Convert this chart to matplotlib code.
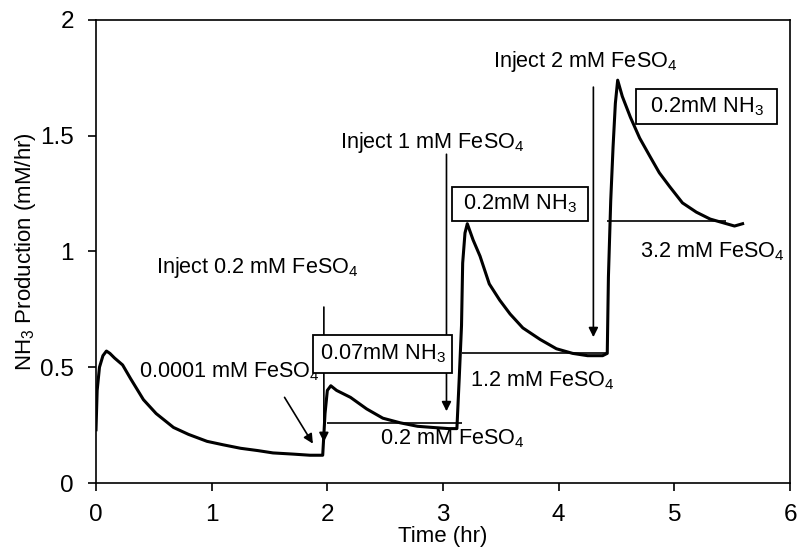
import matplotlib.pyplot as plt
from matplotlib.patches import Rectangle

plt.rcParams['font.family'] = ['Liberation Sans', 'DejaVu Sans']
plt.rcParams['mathtext.fontset'] = 'custom'
plt.rcParams['mathtext.rm'] = 'Liberation Sans'
plt.rcParams['mathtext.it'] = 'Liberation Sans'

# NH3 production trace
time_hr = [0.00, 0.01, 0.03, 0.06, 0.09, 0.12, 0.16, 0.23, 0.30, 0.41, 0.52, 0.67, 0.80, 0.96,
           1.10, 1.25, 1.40, 1.53, 1.70, 1.85, 1.96,
           1.98, 2.00, 2.03, 2.08, 2.20, 2.34, 2.48, 2.63, 2.78, 2.91, 3.05, 3.12,
           3.14, 3.16, 3.17, 3.19, 3.21, 3.26, 3.32, 3.40, 3.49, 3.58, 3.69, 3.84, 3.98,
           4.12, 4.25, 4.38, 4.42,
           4.43, 4.45, 4.47, 4.49, 4.51, 4.55, 4.62, 4.70, 4.79, 4.87, 4.96, 5.07, 5.19,
           5.31, 5.45, 5.52, 5.59]
nh3 = [0.23, 0.40, 0.50, 0.55, 0.57, 0.56, 0.54, 0.51, 0.45, 0.36, 0.30, 0.24, 0.21, 0.18,
       0.165, 0.15, 0.14, 0.13, 0.125, 0.12, 0.12,
       0.30, 0.40, 0.42, 0.40, 0.37, 0.32, 0.28, 0.26, 0.245, 0.24, 0.235, 0.235,
       0.45, 0.68, 0.95, 1.08, 1.12, 1.05, 0.98, 0.86, 0.79, 0.73, 0.67, 0.62, 0.58,
       0.56, 0.55, 0.55, 0.56,
       0.89, 1.22, 1.45, 1.64, 1.74, 1.67, 1.58, 1.49, 1.41, 1.34, 1.28, 1.21, 1.17,
       1.14, 1.12, 1.11, 1.12]

# steady-state levels (start, end, level)
levels_x0 = [2.00, 3.16, 4.42]
levels_x1 = [3.16, 4.42, 5.45]
levels_y = [0.26, 0.56, 1.13]

fig = plt.figure(figsize=(7.98, 5.55), dpi=100)
ax = fig.add_axes([0.1203, 0.1297, 0.8697, 0.8343])

ax.plot(time_hr, nh3, color='black', lw=2.2, zorder=3)
ax.hlines(levels_y, levels_x0, levels_x1, color='black', lw=1.2, zorder=2)

arrow = dict(arrowstyle='-|>', color='black', lw=1.2, mutation_scale=14, shrinkA=0, shrinkB=0)
ax.annotate('', xy=(1.97, 0.177), xytext=(1.97, 0.76), arrowprops=arrow, zorder=2)
ax.annotate('', xy=(1.875, 0.17), xytext=(1.63, 0.37), arrowprops=arrow, zorder=2)
ax.annotate('', xy=(3.03, 0.31), xytext=(3.03, 1.42), arrowprops=arrow, zorder=2)
ax.annotate('', xy=(4.30, 0.63), xytext=(4.30, 1.71), arrowprops=arrow, zorder=2)

# boxes with NH3 amounts
boxes = [(1.875, 0.475, 1.205, 0.165, '0.07mM NH$_3$'),
         (3.08, 1.13, 1.17, 0.15, '0.2mM NH$_3$'),
         (4.67, 1.55, 1.22, 0.15, '0.2mM NH$_3$')]
for x0, y0, w, h, s in boxes:
    ax.add_patch(Rectangle((x0, y0), w, h, facecolor='white', edgecolor='black', lw=1.3, zorder=4))
    ax.text(x0 + w / 2, y0 + h / 2, s, ha='center', va='center', fontsize=15.7, zorder=5)

fs = 15.6
ax.text(1.39, 0.93, 'Inject 0.2 mM FeSO$_4$', ha='center', va='center', fontsize=fs)
ax.text(1.15, 0.48, '0.0001 mM FeSO$_4$', ha='center', va='center', fontsize=fs)
ax.text(3.08, 0.19, '0.2 mM FeSO$_4$', ha='center', va='center', fontsize=fs)
ax.text(2.91, 1.47, 'Inject 1 mM FeSO$_4$', ha='center', va='center', fontsize=fs)
ax.text(3.86, 0.44, '1.2 mM FeSO$_4$', ha='center', va='center', fontsize=fs)
ax.text(4.23, 1.82, 'Inject 2 mM FeSO$_4$', ha='center', va='center', fontsize=fs)
ax.text(5.33, 1.00, '3.2 mM FeSO$_4$', ha='center', va='center', fontsize=fs)

ax.set_xlim(0, 6)
ax.set_ylim(0, 2)
ax.set_xticks([0, 1, 2, 3, 4, 5, 6])
ax.set_yticks([0, 0.5, 1, 1.5, 2])
ax.set_yticklabels(['0', '0.5', '1', '1.5', '2'])
ax.tick_params(direction='out', length=6, width=1.2, labelsize=17.5)
ax.tick_params(axis='x', pad=9)
ax.tick_params(axis='y', pad=10)
for sp in ax.spines.values():
    sp.set_linewidth(1.2)
ax.set_xlabel('Time (hr)', fontsize=16, labelpad=0)
ax.set_ylabel('NH$_3$ Production (mM/hr)', fontsize=16)
ax.yaxis.set_label_coords(-0.083, 0.5)

fig.savefig('out.png', dpi=100)
